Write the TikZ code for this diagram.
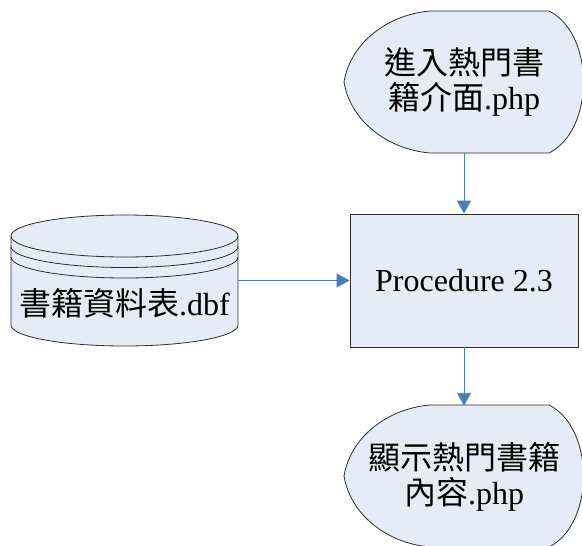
\documentclass[tikz,border=0pt]{standalone}
\usepackage{fontspec}
\setmainfont{Liberation Serif}
\newfontfamily\cjk{Noto Sans CJK TC}
\usetikzlibrary{positioning,arrows.meta}
\definecolor{boxfill}{RGB}{230,236,247}
\definecolor{flowblue}{RGB}{74,126,187}
\definecolor{edgegray}{RGB}{45,45,45}
\tikzset{
  outline/.style={draw=edgegray, fill=boxfill, line width=0.8pt},
  txtnode/.style={align=center, inner sep=0pt, font=\fontsize{32}{35}\selectfont},
  flow/.style={draw=flowblue, line width=0.9pt, -{Triangle[width=14pt,length=13pt]}},
}
% display symbol round a centre
\newcommand\dispshape[1]{%
  \begin{scope}[shift={#1}]
    \draw[outline] (-34,-71) -- (85,-71) .. controls (131,-48) and (131,48) .. (85,71)
      -- (-34,71) .. controls (-79,67) and (-114,37) .. (-120,0)
      .. controls (-114,-37) and (-79,-67) .. (-34,-71) -- cycle;
  \end{scope}}

\begin{document}
\begin{tikzpicture}[x=1pt,y=-1pt]
\useasboundingbox (0,0) rectangle (582,546);

%Shapes
\dispshape{(464,82)}
\dispshape{(464,476)}
\draw[outline] (11,236) -- (11,325) arc[start angle=180,end angle=360,x radius=113.5pt,y radius=21pt]
  -- (238,236) arc[start angle=0,end angle=180,x radius=113.5pt,y radius=21pt] -- cycle;
\foreach \y in {236,246.5,257}
  \draw[draw=edgegray, line width=0.8pt] (11,\y) arc[start angle=180,end angle=360,x radius=113.5pt,y radius=21pt];

%Nodes
\node[txtnode, minimum width=240pt, minimum height=142pt] (start) at (464,82) {{\cjk 進入熱門書}\\{\cjk 籍介面}.php};
\node[outline, txtnode, minimum width=228pt, minimum height=133pt] (proc) at (464,280.5) {Procedure 2.3};
\node[txtnode, minimum width=240pt, minimum height=142pt] (result) at (464,477) {{\cjk 顯示熱門書籍}\\{\cjk 內容}.php};
\node[txtnode, minimum width=227pt] (db) at (124.5,303) {{\cjk 書籍資料表}.dbf};

%Lines
\draw[flow] (start) -- (proc);
\draw[flow] (proc) -- (result);
\draw[flow] (db.east |- proc) -- (proc);
\end{tikzpicture}
\end{document}
